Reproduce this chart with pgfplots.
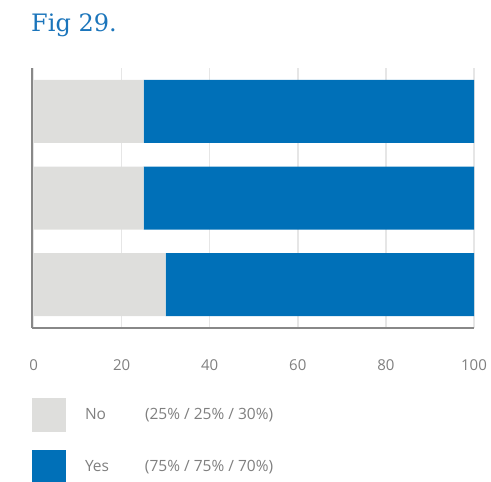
\documentclass[border=0pt]{standalone}
\usepackage{fontspec}
\setmainfont{Open Sans}
\newfontfamily\titlefont{DejaVu Serif}
\usepackage{pgfplots}
\pgfplotsset{compat=1.18}
\definecolor{barblue}{HTML}{0070B8}
\definecolor{bargray}{HTML}{DEDEDC}
\definecolor{titleblue}{HTML}{1B75BB}
\definecolor{gridgray}{HTML}{E6E6E6}
\definecolor{axisgray}{HTML}{888888}
\definecolor{textgray}{HTML}{7F7F7F}
\begin{document}
\begin{tikzpicture}
\useasboundingbox (0,0) rectangle (491bp,482bp);
\node[anchor=base west, inner sep=0pt, text=titleblue, font=\titlefont\fontsize{24bp}{27bp}\selectfont] at (31bp,450bp) {Fig 29.};
\begin{axis}[
  at={(32bp,154bp)}, anchor=south west,
  scale only axis, width=442bp, height=260bp,
  xbar stacked, bar width=63bp,
  xmin=-0.35, xmax=100, ymin=0.5, ymax=3.5,
  y dir=reverse,
  ytick=\empty,
  xtick={0,20,40,60,80,100},
  major tick length=0pt,
  axis x line*=bottom, axis y line*=left,
  axis line style={draw=axisgray, line width=2.6bp},
  xmajorgrids, grid style={draw=gridgray, line width=1.5bp},
  /pgf/number format/assume math mode=true,
  xticklabel style={anchor=center, inner sep=0pt, yshift=-37bp, text=textgray, font=\fontsize{15bp}{18bp}\selectfont},
  legend style={at={(axis description cs:0,-0.2692)}, anchor=north west, draw=none, fill=none,
    inner sep=0pt, outer sep=0pt, row sep=18bp, nodes={inner sep=0pt, text=textgray},
    font=\fontsize{15.5bp}{18bp}\selectfont,
    /tikz/every odd column/.append style={column sep=19bp}},
  legend cell align=left,
  legend image code/.code={\fill[#1] (0bp,-17bp) rectangle (34bp,17bp);},
]
\addplot[fill=bargray, draw=none] coordinates {(25,1) (25,2) (30,3)};
\addlegendentry{\makebox[60bp][l]{No}(25\% / 25\% / 30\%)}
\addplot[fill=barblue, draw=none] coordinates {(75,1) (75,2) (70,3)};
\addlegendentry{\makebox[60bp][l]{Yes}(75\% / 75\% / 70\%)}
\end{axis}
\end{tikzpicture}
\end{document}
